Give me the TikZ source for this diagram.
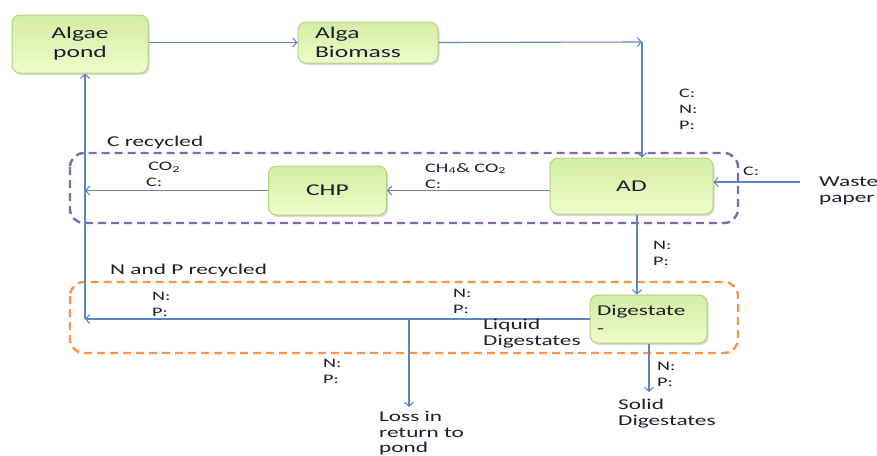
\documentclass[tikz,border=0pt]{standalone}
\usepackage{fontspec}
\setmainfont{Carlito}[FakeStretch=1.55]
\usetikzlibrary{arrows.meta,shadows}
\definecolor{lineblue}{HTML}{5A86C4}
\definecolor{txt}{HTML}{1E1E30}
\definecolor{boxborder}{HTML}{B2D282}
\definecolor{boxtop}{HTML}{D3EEA2}
\definecolor{boxbot}{HTML}{EEFCC9}
\definecolor{grpurple}{HTML}{8566A8}
\definecolor{grorange}{HTML}{F7964A}
\tikzset{
  lbl/.style={anchor=north west, inner sep=0pt, align=left, text=txt, font=\fontsize{13}{16}\selectfont},
  mlbl/.style={anchor=north west, inner sep=0pt, align=left, text=txt, font=\fontsize{15}{16}\selectfont},
  pbox/.style={draw=boxborder, line width=1pt, rounded corners=8pt, top color=boxtop, bottom color=boxbot,
    drop shadow={shadow xshift=1.5pt, shadow yshift=-2pt, opacity=0.25, fill=black!60},
    text=txt, font=\fontsize{16.5}{19}\selectfont, inner sep=0pt},
  arr/.style={draw=lineblue, line width=1.1pt, -{Straight Barb[length=4pt,width=9pt]}},
  grp/.style={dashed, dash pattern=on 8pt off 5pt, line width=2.4pt, rounded corners=14pt},
}
\begin{document}
\begin{tikzpicture}[x=1pt,y=-1pt]
\useasboundingbox (0,0) rectangle (877,455);
% group frames
\draw[grp, draw=grpurple] (70,153) rectangle (738,223);
\draw[grp, draw=grorange] (70,282) rectangle (738,353);
% process boxes
\node[pbox, minimum width=136pt, minimum height=58pt, align=center] (pond) at (80,44) {Algae\\pond};
\node[pbox, minimum width=140pt, minimum height=41pt, align=left, text width=106pt] (bio) at (368,42.5) {Alga\\Biomass};
\node[pbox, minimum width=118pt, minimum height=49pt] (chp) at (327.5,190.5) {CHP};
\node[pbox, minimum width=163pt, minimum height=56pt] (ad) at (631.5,186) {AD};
\node[pbox, minimum width=117pt, minimum height=48pt, align=left, text width=103pt, font=\fontsize{15}{18}\selectfont] (dig) at (648.5,319) {Digestate\\-};
% helper coordinates
\coordinate (c1) at (642,42);
\coordinate (w) at (800,182);
\coordinate (lx) at (85,0);
\coordinate (d1) at (637,0);
\coordinate (j) at (409,319);
\coordinate (lossend) at (409,407);
\coordinate (solend) at (649,392);
% connectors
\draw[arr] (pond.east |- bio.west) -- (bio.west);
\draw[arr] (bio.east) -- (c1);
\draw[arr] (c1) -- (c1 |- ad.north);
\draw[arr] (w) -- (w -| ad.east);
\draw[arr] (ad.west |- chp.east) -- (chp.east);
\draw[arr] (chp.west) -- (chp.west -| lx);
\draw[arr] (d1 |- ad.south) -- (d1 |- dig.north);
\draw[arr] (dig.west) -- (dig.west -| lx);
\draw[arr] (dig.west -| lx) -- (lx |- pond.south);
\draw[arr] (j) -- (lossend);
\draw[arr] (solend |- dig.south) -- (solend);
% labels
\node[lbl] (l1) at (679,89) {C:\\N:\\P:};
\node[lbl] (l2) at (425,163) {CH\textsubscript{4}\& CO\textsubscript{2}\\C:};
\node[lbl] (l3) at (146,162) {\,CO\textsubscript{2}\\C:};
\node[lbl] (l4) at (743,167) {C:};
\node[lbl] (l5) at (653,241) {N:\\P:};
\node[lbl] (l6) at (152,292) {N:\\P:};
\node[lbl] (l7) at (453,289) {N:\\P:};
\node[lbl] (l8) at (323,359) {N:\\P:};
\node[lbl] (l9) at (657,362) {N:\\P:};
\node[mlbl] (crec) at (107,136) {C recycled};
\node[mlbl] (nprec) at (110,264) {N and P recycled};
\node[mlbl] (liq) at (483,319) {Liquid\\Digestates};
\node[mlbl] (solid) at (618,399) {Solid\\Digestates};
\node[mlbl, font=\fontsize{15}{15.5}\selectfont] (loss) at (379,411) {Loss in\\return to\\pond};
\node[mlbl] (waste) at (819,177) {Waste\\paper};
\end{tikzpicture}
\end{document}
